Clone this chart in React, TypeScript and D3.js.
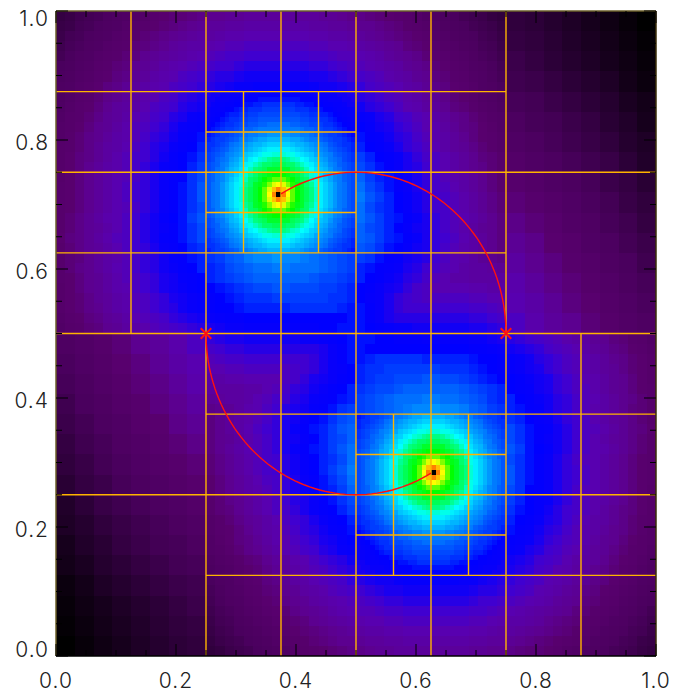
import React from "react";
import * as d3 from "d3";

// estimated colour levels (0-99), rows top to bottom
const coarseRows = [
[13,12,10,8,6,4,2,0],[14,13,11,9,7,5,3,1],[16,14,12,10,8,6,4,2],[17,16,14,12,10,8,5,3],
[19,18,16,14,12,10,7,5],[21,19,18,16,14,11,9,6],[23,21,19,17,15,13,10,8],[25,23,21,19,17,15,12,9],
[27,25,23,21,19,16,14,11],[29,27,25,23,20,18,15,13],[31,29,27,24,22,19,17,14],[33,31,28,26,23,21,18,16],
[35,32,30,27,25,22,20,17],[37,34,31,29,26,24,21,19],[38,36,33,30,28,25,23,20],[40,37,34,32,29,26,24,22],
];
const midRows = [
[14,15,17,18,19,21,22,23,24,25,27,28,29,29,30,31,32,32,33,33,34,34,34,34,34,34,34,34,33,33,32,31,31,30,29,28,27,26,25,23,22,21,20,18,17,16,14,13],
[15,16,18,19,21,22,23,25,26,27,28,29,30,31,32,33,34,34,35,35,36,36,36,36,36,36,36,35,35,34,34,33,32,32,31,30,29,27,26,25,24,22,21,20,18,17,16,14],
[16,18,19,21,22,23,25,26,27,29,30,31,32,33,34,35,35,36,37,37,38,38,38,38,38,38,38,37,37,36,36,35,34,33,32,31,30,29,28,27,25,24,22,21,20,18,17,15],
[17,19,20,22,23,25,26,27,29,30,31,32,34,35,36,36,37,38,39,39,40,40,40,40,40,40,40,39,39,38,38,37,36,35,34,33,32,30,29,28,27,25,24,22,21,19,18,16],
[18,20,22,23,25,26,27,29,30,32,33,34,35,36,37,38,39,40,41,41,42,42,42,42,42,42,42,41,41,40,39,39,38,37,36,34,33,32,31,29,28,27,25,24,22,20,19,17],
[20,21,23,24,26,27,29,30,32,33,34,36,37,38,39,40,41,42,42,43,44,44,44,44,44,44,44,43,43,42,41,40,39,38,37,36,35,33,32,31,29,28,26,25,23,22,20,18],
[21,22,24,25,27,28,30,31,33,34,36,37,38,40,41,42,43,44,44,45,46,46,46,46,46,46,46,45,45,44,43,42,41,40,39,37,36,35,33,32,30,29,27,26,24,23,21,19],
[22,23,25,26,28,30,31,33,34,36,37,38,40,41,42,43,44,45,46,47,47,48,48,48,48,48,48,47,46,46,45,44,43,41,40,39,38,36,35,33,31,30,28,27,25,23,22,20],
[22,24,26,27,29,31,32,34,35,37,38,40,41,43,44,45,44,43,42,40,39,37,36,34,33,31,29,28,26,24,23,21],
[23,25,27,28,30,32,34,35,36,38,40,41,42,44,45,46,46,44,43,42,40,38,37,35,34,32,30,29,27,25,24,22],
[24,26,27,29,31,33,34,36,38,39,41,42,44,45,47,48,48,47,45,44,42,41,39,38,36,34,32,31,29,27,25,24],
[25,26,28,30,32,33,35,37,39,40,42,43,45,47,48,49,50,48,46,45,43,42,40,38,37,35,33,31,30,28,26,24],
[25,27,29,31,32,34,36,37,39,41,43,44,46,48,49,51,51,49,48,46,44,43,41,39,37,36,34,32,30,28,27,25],
[26,27,29,31,33,35,36,38,40,42,44,45,47,49,50,52,52,50,49,47,45,43,42,40,38,36,34,33,31,29,27,25],
[26,28,30,31,33,35,37,39,41,42,44,46,48,50,51,53,54,52,50,49,47,45,43,41,40,38,36,34,32,30,29,27],
[26,28,30,32,34,36,37,39,41,43,45,47,48,50,52,54,55,53,51,49,47,45,44,42,40,38,36,34,32,31,29,27],
[26,28,30,32,34,36,38,39,41,43,45,47,49,50,53,55,57,54,52,51,49,47,45,43,41,39,37,36,34,32,30,28],
[27,28,30,32,34,36,38,40,42,43,45,47,49,51,53,56,58,55,53,51,49,47,45,43,41,40,38,36,34,32,30,28],
[27,28,30,32,34,36,38,40,42,43,45,47,49,51,53,56,59,56,54,52,50,48,46,44,42,41,39,37,35,33,31,29],
[27,28,30,32,34,36,38,39,41,43,45,47,49,51,53,55,58,55,53,52,50,48,46,44,42,41,39,37,35,33,31,29],
[27,29,31,33,35,37,38,40,42,44,46,48,50,51,54,56,58,56,54,52,51,49,47,45,43,41,39,38,36,34,32,30],
[27,29,31,33,34,36,38,40,42,44,46,47,49,51,53,55,57,55,54,52,50,48,46,45,43,41,39,37,35,33,32,30],
[28,30,31,33,35,37,39,40,42,44,46,48,49,51,53,55,57,56,54,52,51,49,47,45,43,42,40,38,36,34,32,30],
[27,29,31,33,34,36,38,40,42,43,45,47,48,50,52,53,56,55,53,51,50,48,46,45,43,41,39,37,36,34,32,30],
[27,29,30,32,34,36,37,39,41,43,44,46,48,49,51,52,53,54,56,57,59,60,60,61,60,60,59,58,57,56,55,54,54,53,51,49,48,46,45,44,42,40,38,37,35,33,32,31],
[27,29,31,32,34,36,38,39,41,43,44,46,47,49,50,52,52,53,55,56,57,58,58,59,59,58,58,58,57,56,55,54,52,51,49,48,47,45,44,42,41,39,38,36,35,35,34,33],
[27,28,30,32,33,35,37,39,40,42,43,45,46,48,49,50,52,53,54,55,56,57,57,57,57,57,57,56,55,55,54,53,52,50,49,47,46,44,43,41,39,38,36,36,35,35,35,35],
[26,28,30,32,33,35,37,38,40,42,43,45,46,47,49,50,50,51,52,53,54,55,55,56,56,55,55,55,54,54,53,52,50,49,47,46,45,43,41,40,38,38,38,38,37,37,36,36],
[26,28,29,31,33,34,36,37,39,40,42,43,45,46,47,48,49,50,51,52,53,53,53,54,54,54,54,54,54,53,53,52,50,48,47,45,43,42,41,40,40,40,40,40,39,39,38,38],
[26,28,29,31,32,34,36,37,39,40,42,43,44,46,47,48,49,50,50,51,52,52,52,52,52,53,53,53,53,53,52,51,51,49,47,45,43,42,42,42,42,42,42,42,41,41,40,39],
[25,27,28,30,31,33,34,36,38,39,40,41,43,44,45,46,47,48,49,49,50,50,50,50,50,50,50,50,50,50,50,51,51,49,47,45,44,44,44,44,44,44,44,44,43,43,42,41],
[24,26,27,29,30,32,33,35,36,37,39,40,41,42,43,44,45,46,47,47,48,48,48,48,48,49,49,49,50,50,51,51,51,50,49,48,47,47,46,46,46,46,46,46,45,45,44,43],
];
const fineRows = [
[45,46,46,47,47,47,47,48,48,49,49,50,50,50,50,50,50,50,50,50,49,49,48,48,47,47,47,47,46,46,45,45],
[46,46,47,47,47,48,49,49,50,50,50,51,51,51,51,51,51,51,51,51,50,50,50,49,49,48,47,47,47,46,46,45],
[46,47,48,48,49,49,50,50,51,51,52,52,53,53,53,53,53,53,53,52,52,51,51,50,50,49,49,48,48,47,46,46],
[47,48,48,49,50,50,51,52,52,53,53,53,54,54,54,54,54,54,54,53,53,53,52,52,51,50,50,49,48,48,47,47],
[47,48,49,50,51,52,52,53,53,54,54,55,55,55,55,55,55,55,55,55,54,54,53,53,52,52,51,50,49,48,47,47],
[48,49,50,51,52,53,53,54,54,55,55,56,56,56,56,56,56,56,56,56,55,55,54,54,53,53,52,51,50,49,48,47],
[49,50,51,52,53,53,54,55,55,56,56,57,57,58,58,58,58,58,57,57,56,56,55,55,54,53,53,52,51,50,49,48],
[50,51,52,53,54,54,55,56,57,57,58,59,59,59,59,59,59,59,59,59,58,57,57,56,55,54,54,53,52,51,50,49],
[51,52,53,54,54,55,56,57,58,59,59,60,60,61,61,61,61,61,60,60,59,59,58,57,56,55,54,54,53,52,51,50],
[52,53,54,54,55,56,57,59,59,60,61,62,62,63,63,63,63,63,62,62,61,60,59,59,57,56,55,54,54,53,52,51],
[53,53,54,55,56,58,59,60,61,62,63,63,64,65,65,65,65,65,64,63,63,62,61,60,59,58,56,55,54,53,53,52],
[53,54,55,56,57,59,60,61,62,63,64,65,66,67,67,67,67,67,66,65,64,63,62,61,60,59,57,56,55,54,53,52],
[54,55,56,57,59,60,61,62,64,65,66,67,69,69,70,70,70,69,69,67,66,65,64,62,61,60,59,57,56,55,54,53],
[54,55,57,58,59,61,62,64,65,67,68,70,71,73,74,74,74,73,71,70,68,67,65,64,62,61,59,58,57,55,54,53],
[55,56,57,59,60,62,63,65,67,69,71,73,75,75,76,76,76,75,75,73,71,69,67,65,63,62,60,59,57,56,55,54],
[55,56,58,59,61,63,64,66,68,71,74,75,76,78,78,78,78,78,76,75,74,71,68,66,64,63,61,59,58,56,55,54],
[56,57,59,60,62,63,65,67,70,73,75,77,78,79,80,80,80,79,78,77,75,73,70,67,65,63,62,60,59,57,56,55],
[56,57,59,60,62,64,66,69,71,75,76,78,80,81,83,83,83,81,80,78,76,75,71,69,66,64,62,60,59,57,56,55],
[56,58,59,61,63,65,67,69,73,75,78,79,81,84,87,88,87,84,81,79,78,75,73,69,67,65,63,61,59,58,56,55],
[56,58,59,61,63,65,67,70,74,76,78,80,83,87,91,94,91,87,83,80,78,76,74,70,67,65,63,61,59,58,56,55],
[56,58,59,61,63,65,67,70,74,76,78,80,83,88,94,99,94,88,83,80,78,76,74,70,67,65,63,61,59,58,56,55],
[56,58,59,61,63,65,67,70,74,76,78,80,83,87,91,94,91,87,83,80,78,76,74,70,67,65,63,61,59,58,56,55],
[56,58,59,61,63,65,67,69,73,75,78,79,81,84,87,88,87,84,81,79,78,75,73,69,67,65,63,61,59,58,56,55],
[56,57,59,60,62,64,66,69,71,75,76,78,80,81,83,83,83,81,80,78,76,75,71,69,66,64,62,60,59,57,56,55],
[56,57,59,60,62,63,65,67,70,73,75,77,78,79,80,80,80,79,78,77,75,73,70,67,65,63,62,60,59,57,56,55],
[55,56,58,59,61,63,64,66,68,71,74,75,76,78,78,78,78,78,76,75,74,71,68,66,64,63,61,59,58,56,55,54],
[55,56,57,59,60,62,63,65,67,69,71,73,75,75,76,76,76,75,75,73,71,69,67,65,63,62,60,59,57,56,55,54],
[54,55,57,58,59,61,62,64,65,67,68,70,71,73,74,74,74,73,71,70,68,67,65,64,62,61,59,58,57,55,54,53],
[54,55,56,57,59,60,61,62,64,65,66,67,69,69,70,70,70,69,69,67,66,65,64,62,61,60,59,57,56,55,54,53],
[53,54,55,56,57,59,60,61,62,63,64,65,66,67,67,67,67,67,66,65,64,63,62,61,60,59,57,56,55,54,53,52],
[53,53,54,55,56,58,59,60,61,62,63,63,64,65,65,65,65,65,64,63,63,62,61,60,59,58,56,55,54,53,53,52],
[52,53,54,54,55,56,57,59,59,60,61,62,62,63,63,63,63,63,62,62,61,60,59,59,57,56,55,54,54,53,52,51],
];

const levelStops = [0, 10, 20, 28, 32, 38, 42, 45, 47, 50, 53, 60, 68, 74, 80, 88, 94, 98, 98.5];
const colourStops = ["#000000", "#25002f", "#4a005e", "#58006e", "#5c0090", "#5800b0", "#4000d0", "#1a00f0", "#0800fa", "#0000ff", "#0030ff", "#0088ff", "#00ffff", "#00ff80", "#00ff00", "#ffff00", "#ff8000", "#ff0000", "#000000"];

const verticalGrid = [[0.125,0.5,1],[0.25,0,1],[0.375,0,1],[0.5,0,1],[0.625,0,1],[0.75,0,1],[0.875,0,0.5],[0.3125,0.625,0.875],[0.4375,0.625,0.875],[0.5625,0.125,0.375],[0.6875,0.125,0.375]];
const horizontalGrid = [[0.875,0,0.75],[0.75,0,1],[0.625,0,0.75],[0.5,0,1],[0.375,0.25,1],[0.25,0,1],[0.125,0.25,1],[0.8125,0.25,0.5],[0.6875,0.25,0.5],[0.3125,0.5,0.75],[0.1875,0.5,0.75]];

const orbitCentre = [0.5, 0.5];
const orbitRadius = 0.25;
const orbitArcs = [[0, 120], [180, 300]];
const starPoints = [[0.25, 0.5], [0.75, 0.5]];

const majorTicks = [0, 0.2, 0.4, 0.6, 0.8, 1];
const minorTicks = [0.05,0.1,0.15,0.25,0.3,0.35,0.45,0.5,0.55,0.65,0.7,0.75,0.85,0.9,0.95];
const tickLabels = ["0.0", "0.2", "0.4", "0.6", "0.8", "1.0"];

const X = d3.scaleLinear().domain([0, 1]).range([56, 656]);
const Y = d3.scaleLinear().domain([0, 1]).range([656, 11]);
const colour = d3.scaleLinear<string>().domain(levelStops).range(colourStops).interpolate(d3.interpolateRgb).clamp(true);

type Cell = { x0: number; top: number; w: number; v: number };
function buildCells(): Cell[] {
  const out: Cell[] = [];
  coarseRows.forEach((row, r) => row.forEach((v, c) => out.push({ x0: 0.75 + c / 32, top: 1 - r / 32, w: 1 / 32, v })));
  midRows.forEach((row, r) =>
    row.forEach((v, i) => {
      const c = row.length === 32 && i >= 16 ? i + 16 : i;
      out.push({ x0: c / 64, top: 1 - r / 64, w: 1 / 64, v });
    })
  );
  fineRows.forEach((row, r) => row.forEach((v, c) => out.push({ x0: 0.25 + c / 128, top: 0.875 - r / 128, w: 1 / 128, v })));
  // the field is point-symmetric about the middle of the box
  const mirrored = out.map((d) => ({ x0: 1 - d.x0 - d.w, top: 1 - d.top + d.w, w: d.w, v: d.v }));
  return out.concat(mirrored);
}
const cells = buildCells();

const orbitLine = d3
  .line<number>()
  .x((a) => X(orbitCentre[0] + orbitRadius * Math.cos((a * Math.PI) / 180)))
  .y((a) => Y(orbitCentre[1] + orbitRadius * Math.sin((a * Math.PI) / 180)));

const gridColour = "#ffb400";
const fontFamily = "Inter, 'Liberation Sans', sans-serif";

export default function App() {
  return (
    <svg width={675} height={696} style={{ position: "absolute", left: 0, top: 0, background: "#fff" }}>
      <g shapeRendering="crispEdges">
        {cells.map((d, i) => (
          <rect key={i} x={X(d.x0)} y={Y(d.top)} width={X(d.x0 + d.w) - X(d.x0)} height={Y(d.top - d.w) - Y(d.top)} fill={colour(d.v)} />
        ))}
      </g>
      <g stroke={gridColour} strokeWidth={1.4} fill="none">
        {verticalGrid.map((s, i) => (
          <line key={i} x1={X(s[0])} x2={X(s[0])} y1={Y(s[1])} y2={Y(s[2])} />
        ))}
        {horizontalGrid.map((s, i) => (
          <line key={i} y1={Y(s[0])} y2={Y(s[0])} x1={X(s[1])} x2={X(s[2])} />
        ))}
      </g>
      <g stroke="#ff1010" strokeWidth={1.4} fill="none">
        {orbitArcs.map((a, i) => (
          <path key={i} d={orbitLine(d3.range(a[0], a[1] + 1, 2)) || ""} />
        ))}
        {starPoints.map((p, i) =>
          [45, 135].map((ang) => {
            const dx = 7.5 * Math.sin((ang * Math.PI) / 180);
            const dy = 7.5 * Math.cos((ang * Math.PI) / 180);
            return <line key={i + "-" + ang} strokeWidth={2} x1={X(p[0]) - dx} x2={X(p[0]) + dx} y1={Y(p[1]) - dy} y2={Y(p[1]) + dy} />;
          })
        )}
      </g>
      <g fill="none">
        <line x1={X(0)} x2={X(0)} y1={Y(0)} y2={Y(1)} stroke="#6b5f2a" strokeWidth={1.5} />
        <line x1={X(0)} x2={X(1)} y1={Y(1)} y2={Y(1)} stroke="#6b5f2a" strokeWidth={1.5} />
        <line x1={X(1)} x2={X(1)} y1={Y(0)} y2={Y(1)} stroke="#3a2c08" strokeWidth={1.5} />
        <line x1={X(0)} x2={X(1)} y1={Y(0)} y2={Y(0)} stroke="#000" strokeWidth={1.5} />
      </g>
      <g stroke="#000" strokeWidth={1}>
        {[...majorTicks.map((t) => [t, 12]), ...minorTicks.map((t) => [t, 6])].map(([t, len], i) => (
          <g key={i}>
            <line x1={X(t)} x2={X(t)} y1={Y(0)} y2={Y(0) - len} />
            <line x1={X(t)} x2={X(t)} y1={Y(1)} y2={Y(1) + len} />
            <line y1={Y(t)} y2={Y(t)} x1={X(0)} x2={X(0) + len} />
            <line y1={Y(t)} y2={Y(t)} x1={X(1)} x2={X(1) - len} />
          </g>
        ))}
      </g>
      <g fontFamily={fontFamily} fontSize={21} fontWeight={300} fill="#222" letterSpacing={1}>
        {tickLabels.map((l, i) => (
          <text key={"y" + l} x={49} y={Math.max(26, Math.min(657, Y(majorTicks[i]) + 10))} textAnchor="end">
            {l}
          </text>
        ))}
        {tickLabels.map((l, i) => (
          <text key={"x" + l} x={X(majorTicks[i])} y={688} textAnchor="middle">
            {l}
          </text>
        ))}
      </g>
    </svg>
  );
}
